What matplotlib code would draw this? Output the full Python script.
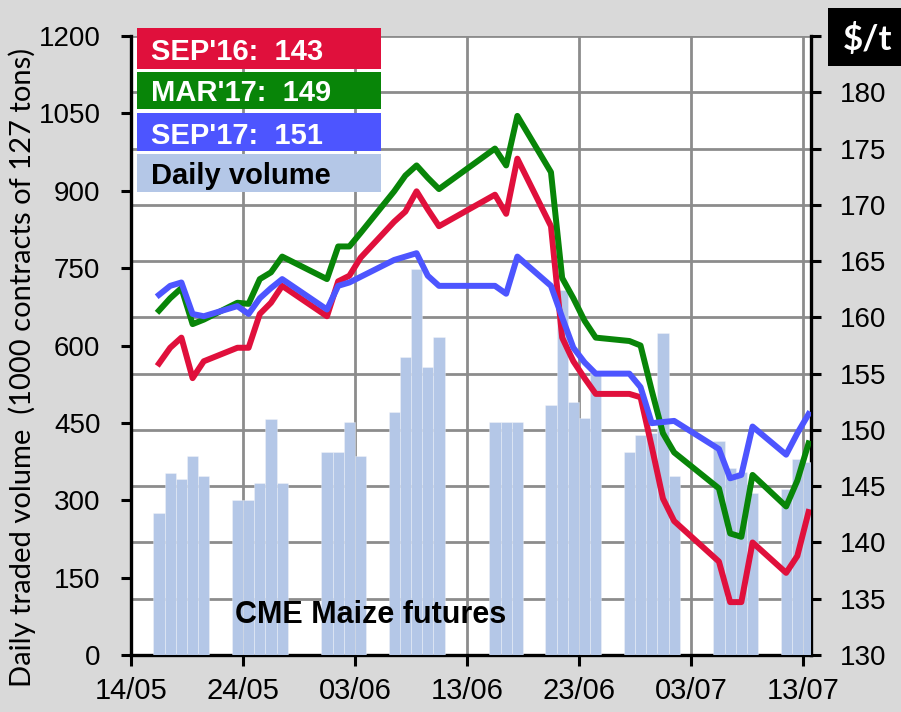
import matplotlib
matplotlib.use("Agg")
import matplotlib.pyplot as plt
import matplotlib.dates as mdates
from matplotlib.patches import Rectangle
import numpy as np

# trading days shown in the chart
dates = [
    "2016-05-16", "2016-05-17", "2016-05-18", "2016-05-19", "2016-05-20",
    "2016-05-23", "2016-05-24", "2016-05-25", "2016-05-26", "2016-05-27",
    "2016-05-31", "2016-06-01", "2016-06-02", "2016-06-03",
    "2016-06-06", "2016-06-07", "2016-06-08", "2016-06-09", "2016-06-10",
    "2016-06-15", "2016-06-16", "2016-06-17",
    "2016-06-20", "2016-06-21", "2016-06-22", "2016-06-23", "2016-06-24",
    "2016-06-27", "2016-06-28", "2016-06-29", "2016-06-30", "2016-07-01",
    "2016-07-05", "2016-07-06", "2016-07-07", "2016-07-08",
    "2016-07-11", "2016-07-12", "2016-07-13",
]

# daily volume (1000 contracts)
volume = [
    275, 353, 341, 386, 347,
    301, 301, 334, 458, 334,
    394, 394, 452, 386,
    472, 577, 748, 558, 616,
    452, 452, 452,
    485, 708, 491, 459, 546,
    393, 427, 430, 624, 347,
    414, 362, 355, 315,
    321, 380, 374,
]

# futures prices, $/t
sep16 = [
    155.9, 157.3, 158.2, 154.6, 156.1,
    157.3, 157.3, 160.3, 161.3, 162.8,
    160.1, 163.2, 163.7, 165.3,
    168.5, 169.4, 171.2, 169.6, 168.1,
    170.9, 169.2, 174.1,
    168.1, 158.2, 156.1, 154.6, 153.2,
    153.2, 152.9, 148.5, 143.9, 141.9,
    138.3, 134.7, 134.7, 140.0,
    137.3, 138.8, 142.7,
]
mar17 = [
    160.6, 161.7, 162.6, 159.4, 159.8,
    161.3, 161.2, 163.4, 164.0, 165.4,
    163.4, 166.3, 166.3, 167.5,
    171.2, 172.6, 173.5, 172.4, 171.4,
    175.0, 173.5, 177.9,
    172.9, 163.5, 161.7, 159.7, 158.2,
    157.9, 157.5, 153.5, 149.7, 148.0,
    144.8, 140.8, 140.5, 146.0,
    143.2, 145.5, 148.8,
]
sep17 = [
    162.0, 162.8, 163.1, 160.3, 160.1,
    161.0, 160.3, 161.7, 162.6, 163.4,
    160.7, 162.8, 163.1, 163.6,
    165.1, 165.4, 165.7, 163.7, 162.8,
    162.8, 162.1, 165.4,
    162.8, 160.0, 157.3, 156.0, 155.0,
    155.0, 153.8, 150.6, 150.7, 150.8,
    148.3, 145.7, 146.0, 150.3,
    147.8, 149.7, 151.4,
]

tick_dates = ["2016-05-14", "2016-05-24", "2016-06-03", "2016-06-13",
              "2016-06-23", "2016-07-03", "2016-07-13"]
vol_ticks = [0, 150, 300, 450, 600, 750, 900, 1050, 1200]
price_ticks = [130, 135, 140, 145, 150, 155, 160, 165, 170, 175, 180, 185]

RED = "#e0103c"
GREEN = "#088508"
BLUE = "#4d55ff"
LIGHT = "#b4c7e7"
GRID = "#8c8c8c"

x = mdates.datestr2num(dates)
xt = mdates.datestr2num(tick_dates)

fig = plt.figure(figsize=(9.01, 7.12), dpi=100, facecolor="#d9d9d9")
ax = fig.add_axes([131 / 901, 57 / 712, 680 / 901, 619 / 712])
ax_vol = ax.twinx()
ax_px = ax.twinx()

# base axes: grid + price scale on the right
ax.set_facecolor("white")
ax.set_xlim(xt[0], xt[-1] + 0.72)
ax.set_ylim(130, 185)
ax.set_xticks(xt)
ax.xaxis.set_major_formatter(mdates.DateFormatter("%d/%m"))
ax.set_yticks(price_ticks)
ax.set_yticklabels([str(t) for t in price_ticks[:-1]] + [""])
ax.yaxis.tick_right()
ax.grid(True, color=GRID, lw=2)
for s in ["left", "bottom", "right"]:
    ax.spines[s].set_linewidth(2.4)
    ax.spines[s].set_color("black")
ax.spines["top"].set_visible(False)
ax.tick_params(axis="y", direction="out", length=7, width=2.2, pad=14,
               labelsize=20)
ax.tick_params(axis="x", direction="out", length=8, width=2.2, pad=8,
               labelsize=21)
for lab in ax.get_xticklabels() + ax.get_yticklabels():
    lab.set_family("Liberation Sans")

# volume bars
ax_vol.bar(x, volume, width=1.0, align="edge", color=LIGHT,
           edgecolor=(1, 1, 1, 0.35), linewidth=0.6)
ax_vol.set_ylim(0, 1200)
ax_vol.set_yticks(vol_ticks)
ax_vol.set_yticklabels([str(v) for v in vol_ticks])
ax_vol.yaxis.set_ticks_position("left")
ax_vol.yaxis.set_tick_params(direction="out", length=7, width=2.2, pad=15,
                             labelsize=20, labelleft=True, labelright=False)
for t in ax_vol.yaxis.get_major_ticks():
    t.set_pad(15)
for lab in ax_vol.get_yticklabels():
    lab.set_family("Liberation Sans")
for s in ax_vol.spines.values():
    s.set_visible(False)

# price lines
xc = x + 0.5
ax_px.plot(xc, sep16, color=RED, lw=4.3)
ax_px.plot(xc, mar17, color=GREEN, lw=4.3)
ax_px.plot(xc, sep17, color=BLUE, lw=4.3)
ax_px.set_ylim(130, 185)
ax_px.set_yticks([])
for s in ax_px.spines.values():
    s.set_visible(False)

# overlay in pixel coordinates for the text boxes
ov = fig.add_axes([0, 0, 1, 1], zorder=10)
ov.set_xlim(0, 901)
ov.set_ylim(712, 0)
ov.axis("off")
ov.patch.set_visible(False)

boxes = [
    (28.3, 40.7, RED, "white", "SEP'16:  %d" % round(sep16[-1]), 60),
    (72.3, 37.0, GREEN, "white", "MAR'17:  %d" % round(mar17[-1]), 100.7),
    (113.3, 37.4, BLUE, "white", "SEP'17:  %d" % round(sep17[-1]), 144),
    (154.0, 37.7, LIGHT, "black", "Daily volume", 184.3),
]
for y0, h, fc, tc, txt, base in boxes:
    ov.add_patch(Rectangle((136.7, y0), 244.3, h, color=fc, lw=0))
    ov.text(150.7, base, txt, color=tc, fontsize=21, fontweight="bold",
            family="Liberation Sans", va="baseline", ha="left")

ov.add_patch(Rectangle((828, 8.3), 73, 57.4, color="black", lw=0))
ov.text(868, 50, "$/t", color="white", fontsize=25, fontweight="bold",
        family="Lato", va="baseline", ha="center")

ov.text(235, 622.7, "CME Maize futures", color="black", fontsize=22,
        fontweight="bold", family="Liberation Sans", va="baseline", ha="left")

ov.text(22, 367, "Daily traded volume  (1000 contracts of 127 tons)",
        rotation=90, fontsize=21, family="Lato", va="center", ha="center")

fig.savefig("out.png", dpi=100, facecolor=fig.get_facecolor())
